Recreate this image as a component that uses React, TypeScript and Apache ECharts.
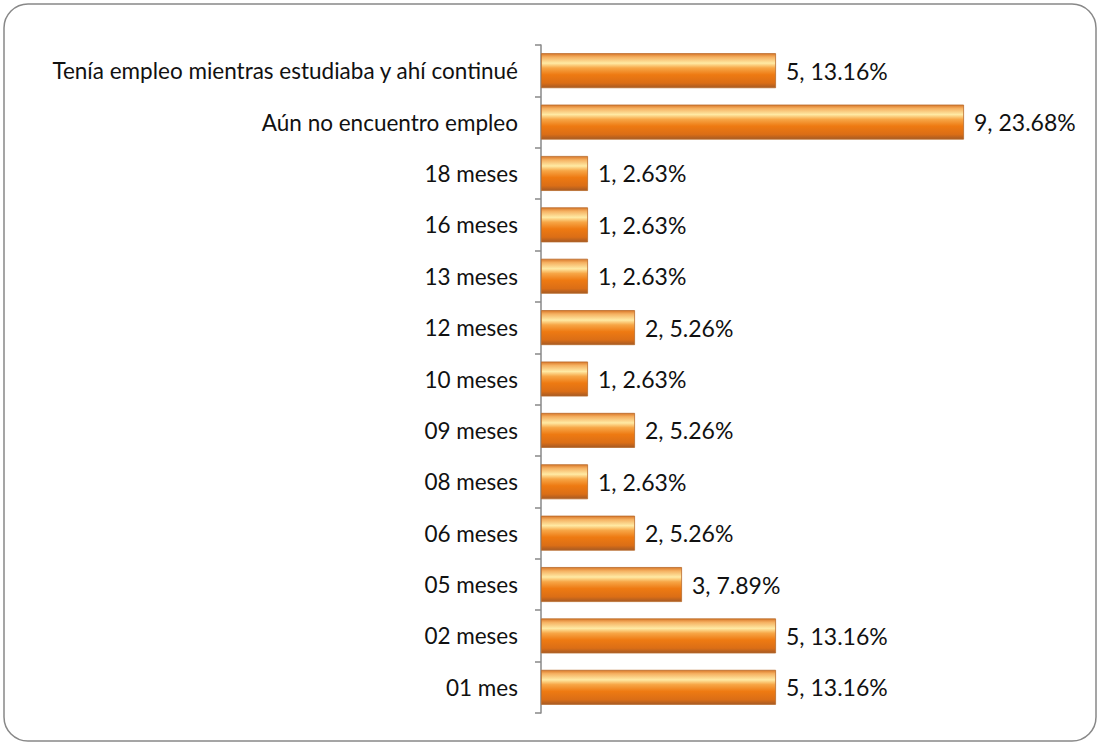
import React, { useEffect, useRef } from "react";
import * as echarts from "echarts";

const categories = [
  "01 mes",
  "02 meses",
  "05 meses",
  "06 meses",
  "08 meses",
  "09 meses",
  "10 meses",
  "12 meses",
  "13 meses",
  "16 meses",
  "18 meses",
  "Aún no encuentro empleo",
  "Tenía empleo mientras estudiaba y ahí continué",
];
const counts = [5, 5, 3, 2, 1, 2, 1, 2, 1, 1, 1, 9, 5];
const percents = ["13.16%", "13.16%", "7.89%", "5.26%", "2.63%", "5.26%", "2.63%", "5.26%", "2.63%", "2.63%", "2.63%", "23.68%", "13.16%"];

export default function App() {
  const ref = useRef<HTMLDivElement>(null);
  useEffect(() => {
    const chart = echarts.init(ref.current!, null, { renderer: "svg" });
    const barGrad = new echarts.graphic.LinearGradient(0, 0, 0, 1, [
      { offset: 0, color: "#d9782a" },
      { offset: 0.1, color: "#f5b060" },
      { offset: 0.28, color: "#ffeaa4" },
      { offset: 0.42, color: "#f7a646" },
      { offset: 0.62, color: "#ee7a12" },
      { offset: 0.86, color: "#db6e16" },
      { offset: 1, color: "#a65a24" },
    ]);
    chart.setOption({
      animation: false,
      graphic: [
        {
          type: "rect",
          shape: { x: 4, y: 4, width: 1092, height: 737, r: 24 },
          style: { fill: "none", stroke: "#888888", lineWidth: 1.5 },
          silent: true,
        },
      ],
      grid: { left: 541, right: 89, top: 45, bottom: 31 },
      xAxis: {
        type: "value",
        min: 0,
        max: 10,
        show: false,
      },
      yAxis: {
        type: "category",
        data: categories,
        axisLine: { show: true, lineStyle: { color: "#888888", width: 1.5 } },
        axisTick: { show: true, length: 6, lineStyle: { color: "#888888", width: 1.5 } },
        axisLabel: {
          color: "#111111",
          fontSize: 22.5,
          fontFamily: "Lato",
          margin: 23,
        },
      },
      series: [
        {
          type: "bar",
          data: counts,
          barCategoryGap: "32%",
          itemStyle: {
            color: barGrad,
            borderColor: "#b86a2a",
            borderWidth: 0.8,
          },
          label: {
            show: true,
            position: "right",
            distance: 10,
            color: "#111111",
            fontSize: 23,
            fontFamily: "Lato",
            formatter: (p: any) => `${counts[p.dataIndex]}, ${percents[p.dataIndex]}`,
          },
        },
      ],
    });
    return () => chart.dispose();
  }, []);
  return <div ref={ref} style={{ width: 1100, height: 744, position: "absolute", left: 0, top: 0 }} />;
}
